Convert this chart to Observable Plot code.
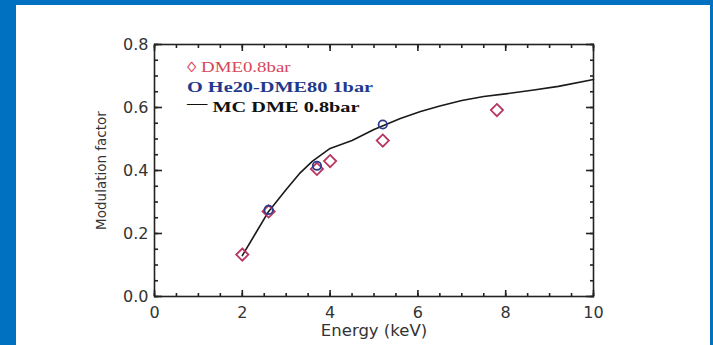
<!DOCTYPE html>
<html>
<head>
<meta charset="utf-8">
<script src="https://cdn.jsdelivr.net/npm/d3@7"></script>
<script src="https://cdn.jsdelivr.net/npm/@observablehq/plot@0.6"></script>
<style>
  html, body { margin: 0; padding: 0; background: #fff; }
  #wrap { position: relative; width: 713px; height: 345px; overflow: hidden; background: #fff; }
  .bl { position: absolute; background: #0070C0; }
  #legend { position: absolute; left: 187px; top: 57px; font-family: "Liberation Serif", "DejaVu Serif", serif; font-size: 14.5px; line-height: 20px; }
  #legend div { white-space: pre; transform-origin: 0 50%; }
</style>
</head>
<body>
<div id="wrap">
  <div id="chart"></div>
  <div class="bl" style="left:0;top:0;width:16px;height:345px"></div>
  <div class="bl" style="left:0;top:0;width:713px;height:5px"></div>
  <div class="bl" style="left:710px;top:0;width:3px;height:345px"></div>
  <div id="legend">
    <div style="color:#d8465a;transform:scaleX(1.3)">◊ DME0.8bar</div>
    <div style="color:#1f3a8c;font-weight:bold;transform:scaleX(1.4)">O He20-DME80 1bar</div>
    <div style="color:#111;font-weight:bold;transform:scaleX(1.4)"><span style="position:relative;top:-4px">—</span> MC DME 0.8bar</div>
  </div>
</div>
<script>
// DME 0.8 bar measurements (red diamonds)
const dmeEnergy = [2.0, 2.6, 3.7, 4.0, 5.2, 7.8];
const dmeMod    = [0.133, 0.27, 0.405, 0.43, 0.495, 0.592];
// He20-DME80 1 bar measurements (blue circles)
const heEnergy = [2.6, 3.7, 5.2];
const heMod    = [0.275, 0.415, 0.546];
// Monte Carlo DME 0.8 bar (black line)
const mcEnergy = [2.0, 2.3, 2.6, 3.0, 3.3, 3.6, 4.0, 4.5, 5.0, 5.6, 6.06, 6.5, 7.0, 7.5, 8.04, 8.6, 9.2, 10.0];
const mcMod    = [0.13, 0.20, 0.27, 0.34, 0.39, 0.43, 0.47, 0.495, 0.53, 0.565, 0.587, 0.605, 0.622, 0.635, 0.644, 0.655, 0.667, 0.689];
// axis ticks
const xMajor = [0, 2, 4, 6, 8, 10];
const yMajor = [0.0, 0.2, 0.4, 0.6, 0.8];
const xMinor = d3.range(0, 10.001, 0.5);
const yMinor = d3.range(0, 0.8001, 0.05);

const dme = dmeEnergy.map((e, i) => ({e, m: dmeMod[i]}));
const he = heEnergy.map((e, i) => ({e, m: heMod[i]}));
const mc = mcEnergy.map((e, i) => ({e, m: mcMod[i]}));

const axisColor = "#222";
const blank = () => "";

const plot = Plot.plot({
  width: 713,
  height: 345,
  marginLeft: 154,
  marginRight: 120,
  marginTop: 44,
  marginBottom: 49,
  style: {fontFamily: "'DejaVu Sans', Verdana, sans-serif", fontSize: "14px", color: "#333", background: "transparent", overflow: "visible"},
  x: {domain: [0, 10]},
  y: {domain: [0, 0.8]},
  marks: [
    Plot.frame({stroke: axisColor, strokeWidth: 1.6}),
    // bottom axis: labels + inward ticks
    Plot.axisX({anchor: "bottom", ticks: xMajor, tickSize: -6, tickPadding: 16, tickFormat: d3.format("d"), stroke: axisColor, strokeWidth: 1.6, fill: "#333", fontSize: 16,
      label: "Energy (keV)", labelAnchor: "center", labelArrow: "none", labelOffset: 39}),
    Plot.axisX({anchor: "bottom", ticks: xMinor, tickSize: -3, tickFormat: blank, label: null, stroke: axisColor, strokeWidth: 1.6}),
    Plot.axisX({anchor: "top", ticks: xMajor, tickSize: -6, tickFormat: blank, label: null, stroke: axisColor, strokeWidth: 1.6}),
    Plot.axisX({anchor: "top", ticks: xMinor, tickSize: -3, tickFormat: blank, label: null, stroke: axisColor, strokeWidth: 1.6}),
    // left axis
    Plot.axisY({anchor: "left", ticks: yMajor, tickSize: -8, tickPadding: 14, tickFormat: d3.format(".1f"), stroke: axisColor, strokeWidth: 1.6, fill: "#333", fontSize: 16,
      label: "Modulation factor", labelAnchor: "center", labelArrow: "none", labelOffset: 58}),
    Plot.axisY({anchor: "left", ticks: yMinor, tickSize: -4, tickFormat: blank, label: null, stroke: axisColor, strokeWidth: 1.6}),
    Plot.axisY({anchor: "right", ticks: yMajor, tickSize: -8, tickFormat: blank, label: null, stroke: axisColor, strokeWidth: 1.6}),
    Plot.axisY({anchor: "right", ticks: yMinor, tickSize: -4, tickFormat: blank, label: null, stroke: axisColor, strokeWidth: 1.6}),
    // data
    Plot.line(mc, {x: "e", y: "m", stroke: "#1a1a1a", strokeWidth: 1.6, curve: "linear"}),
    Plot.dot(dme, {x: "e", y: "m", symbol: "diamond2", r: 5.5, stroke: "#b8365e", strokeWidth: 1.8, fill: "none"}),
    Plot.dot(he, {x: "e", y: "m", symbol: "circle", r: 4.2, stroke: "#2c3a8a", strokeWidth: 1.8, fill: "none"})
  ]
});
// axis label font sizes (horizontal title wider, vertical title smaller as in the reference)
plot.querySelectorAll("[aria-label='x-axis label'] text, [aria-label='x-axis label']").forEach(n => n.setAttribute("font-size", 16.5));
plot.querySelectorAll("[aria-label='y-axis label'] text, [aria-label='y-axis label']").forEach(n => n.setAttribute("font-size", 13.5));
document.getElementById("chart").appendChild(plot);
</script>
</body>
</html>
